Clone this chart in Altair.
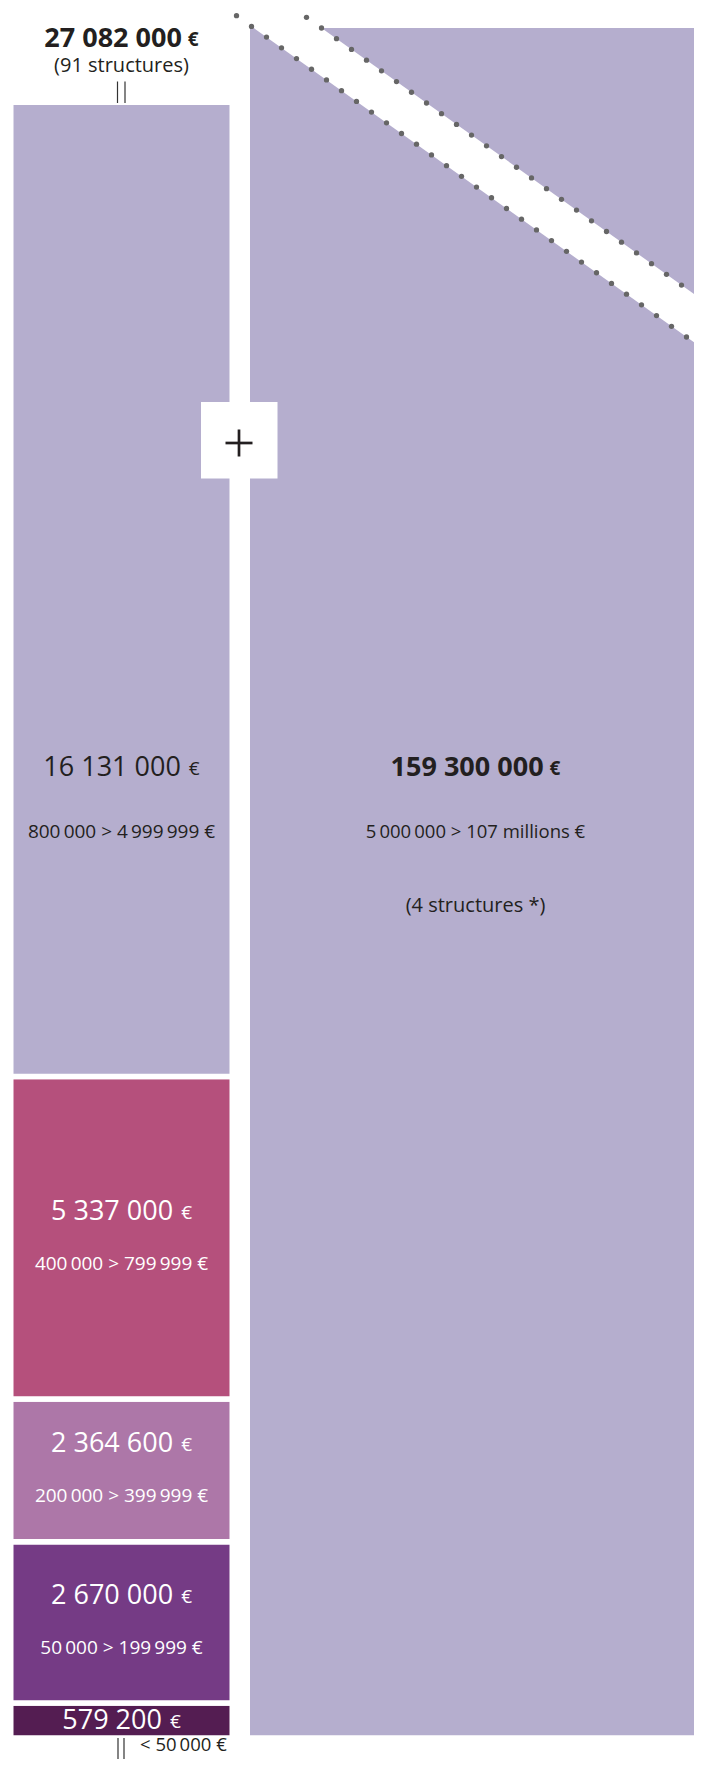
import re
import altair as alt
import pandas as pd

# ---------------- data ----------------
segment_ranges = ["< 50 000 €", "50 000 > 199 999 €", "200 000 > 399 999 €",
                  "400 000 > 799 999 €", "800 000 > 4 999 999 €"]
segment_amounts = [579200, 2670000, 2364600, 5337000, 16131000]
segment_colors = ["#541d52", "#753b85", "#ad77a8", "#b5507c", "#b5aece"]
segment_text_colors = ["#ffffff", "#ffffff", "#ffffff", "#ffffff", "#231f20"]

small_total = 27082000          # "27 082 000 €"
small_count = 91                # "(91 structures)"
big_amount = 159300000          # "159 300 000 €"
big_range = "5 000 000 > 107 millions €"
big_count = 4                   # "(4 structures *)"

# ---------------- layout / style ----------------
FONT = "Open Sans"
DARK = "#231f20"
PLOT_TOP = 28.0        # page y of the plot top
Y0 = 1738.0            # page y of value 0
K = 60.40              # pixels per million euros
X_MIN, X_MAX = 8.0, 694.0   # page x covered by the plot (body width 686)
W = X_MAX - X_MIN
H = Y0 - PLOT_TOP
YMAX = H / K
STROKE = 5.5
LEFT_X0, LEFT_X1 = 13.5, 229.5
RIGHT_X0, RIGHT_X1 = 250.0, 701.0
LEFT_CX = (LEFT_X0 + LEFT_X1) / 2
RIGHT_CX = (RIGHT_X0 + RIGHT_X1) / 2


def v(page_y):
    """page pixel y -> value in millions of euros"""
    return (Y0 - page_y) / K


def fmt(a):
    return f"{a:,}".replace(",", " ")


def thin(s):
    s = re.sub(r"(\d) (\d)", "\\1\u2009\\2", s)
    return re.sub(r"(\d) (\d)", "\\1\u2009\\2", s)


def adv(s, size):
    w = 0.0
    for ch in s:
        if ch.isdigit():
            w += 0.572
        elif ch == " ":
            w += 0.26
        else:
            w += 0.57
    return w * size


xs = alt.Scale(domain=[X_MIN, X_MAX], nice=False, zero=False)
ys = alt.Scale(domain=[0, YMAX], nice=False, zero=False)


def X(f):
    return alt.X(f, type="quantitative", scale=xs, axis=None)


def Y(f):
    return alt.Y(f, type="quantitative", scale=ys, axis=None)


# ---------------- left column (stacked) ----------------
seg = pd.DataFrame({
    "range": [thin(r) for r in segment_ranges],
    "amount": segment_amounts,
    "color": segment_colors,
    "tcolor": segment_text_colors,
})
seg["m"] = seg["amount"] / 1e6
seg["top"] = seg["m"].cumsum()
seg["bottom"] = seg["top"] - seg["m"]
seg["mid"] = (seg["top"] + seg["bottom"]) / 2
seg["xl"] = LEFT_X0 - STROKE / 2
seg["xr"] = LEFT_X1 + STROKE / 2
seg["num"] = seg["amount"].map(fmt)

VAL_SIZE, EUR_SIZE, GAP = 27, 19, 8
RNG_SIZE = 19
off = 26 / K
seg["val_y"] = seg["mid"] + off
seg["rng_y"] = seg["mid"] - off
seg.loc[0, "val_y"] = seg.loc[0, "mid"]
seg.loc[4, "val_y"] = v(768)
seg.loc[4, "rng_y"] = v(832)
num_w = seg["num"].map(lambda s: adv(s, VAL_SIZE))
eur_w = 0.572 * EUR_SIZE
tot = num_w + GAP + eur_w
seg["num_x"] = LEFT_CX - tot / 2 + num_w
seg["eur_x"] = seg["num_x"] + GAP
seg["cx"] = LEFT_CX

bars = alt.Chart(seg).mark_rect(stroke="white", strokeWidth=STROKE).encode(
    x=X("xl"), x2="xr", y=Y("bottom"), y2="top",
    color=alt.Color("color:N", scale=None))

val_num = alt.Chart(seg).mark_text(font=FONT, fontSize=VAL_SIZE, fontWeight=400,
                                   align="right", baseline="middle").encode(
    x=X("num_x"), y=Y("val_y"), text="num:N", color=alt.Color("tcolor:N", scale=None))
val_eur = alt.Chart(seg).mark_text(font=FONT, fontSize=EUR_SIZE, fontWeight=400,
                                   align="left", baseline="middle", dy=1).encode(
    x=X("eur_x"), y=Y("val_y"), text=alt.value("€"), color=alt.Color("tcolor:N", scale=None))
rng_txt = alt.Chart(seg.iloc[1:]).mark_text(font=FONT, fontSize=RNG_SIZE, fontWeight=400,
                                            align="center", baseline="middle").encode(
    x=X("cx"), y=Y("rng_y"), text="range:N", color=alt.Color("tcolor:N", scale=None))

low = pd.DataFrame({"x": [140.0], "y": [v(1745)], "t": [seg.loc[0, "range"]]})
low_txt = alt.Chart(low).mark_text(font=FONT, fontSize=18.5, fontWeight=400, align="left",
                                   baseline="middle", color=DARK).encode(
    x=X("x"), y=Y("y"), text="t:N")

# ---------------- header of left column ----------------
T_SIZE, T_EUR, T_GAP = 27, 19, 6
t_num = fmt(small_total)
tw = adv(t_num, T_SIZE)
ttot = tw + T_GAP + 0.572 * T_EUR
head = pd.DataFrame({
    "nx": [LEFT_CX - ttot / 2 + tw], "ex": [LEFT_CX - ttot / 2 + tw + T_GAP],
    "cx": [LEFT_CX], "y": [v(38.5)], "y2": [v(66)],
    "num": [t_num], "cnt": [f"({small_count} structures)"]})
head_num = alt.Chart(head).mark_text(font=FONT, fontSize=T_SIZE, fontWeight="bold", align="right",
                                     baseline="middle", color=DARK).encode(
    x=X("nx"), y=Y("y"), text="num:N")
head_eur = alt.Chart(head).mark_text(font=FONT, fontSize=T_EUR, fontWeight="bold", align="left",
                                     baseline="middle", color=DARK, dy=1).encode(
    x=X("ex"), y=Y("y"), text=alt.value("€"))
head_cnt = alt.Chart(head).mark_text(font=FONT, fontSize=20, fontWeight=400, align="center",
                                     baseline="middle", color=DARK).encode(
    x=X("cx"), y=Y("y2"), text="cnt:N")

conn = pd.DataFrame({"x": [117.5, 125.0, 118.0, 124.0],
                     "y": [v(81.5), v(81.5), v(1738), v(1738)],
                     "y2": [v(103), v(103), v(1768), v(1768)]})
conn_rules = alt.Chart(conn).mark_rule(color="#333333", strokeWidth=1.2).encode(
    x=X("x"), y=Y("y"), y2="y2")

# ---------------- right (broken) bar ----------------
big = pd.DataFrame({"xl": [RIGHT_X0 - STROKE / 2], "xr": [RIGHT_X1 + STROKE / 2],
                    "y": [big_amount / 1e6], "y2": [0.0]})
big_bar = alt.Chart(big).mark_rect(clip=True, color="#b5aece", stroke="white",
                                   strokeWidth=STROKE).encode(
    x=X("xl"), x2="xr", y=Y("y"), y2="y2")

# break band
SLOPE = 0.714
def lower_line(x):
    return 15.7 + SLOPE * (x - 236.5)
def upper_line(x):
    return 17.3 + SLOPE * (x - 306.5)

band = pd.DataFrame({"x": [236.5, 706.0]})
band["lo"] = band["x"].map(lambda x: v(lower_line(x)))
band["hi"] = band["x"].map(lambda x: v(upper_line(x)))
band_area = alt.Chart(band).mark_area(clip=True, color="white", opacity=1).encode(
    x=X("x"), y=Y("lo"), y2="hi")

dots = pd.DataFrame({"x": [236.5 + 15 * i for i in range(31)] + [306.5 + 15 * i for i in range(26)]})
dots["line"] = ["lo"] * 31 + ["hi"] * 26
dots["y"] = [v(lower_line(x)) if l == "lo" else v(upper_line(x)) for x, l in zip(dots["x"], dots["line"])]
dot_marks = alt.Chart(dots).mark_circle(size=28, color="#666666", opacity=1).encode(
    x=X("x"), y=Y("y"))

big_lab = pd.DataFrame({
    "cx": [RIGHT_CX], "y1": [v(768)], "y2": [v(832)], "y3": [v(906)],
    "rng": [thin(big_range)], "cnt": [f"({big_count} structures *)"]})
B_SIZE, B_EUR, B_GAP = 27, 19, 6
b_num = fmt(big_amount)
bw = adv(b_num, B_SIZE)
btot = bw + B_GAP + 0.572 * B_EUR
big_lab["nx"] = RIGHT_CX - btot / 2 + bw
big_lab["ex"] = big_lab["nx"] + B_GAP
big_lab["num"] = b_num

big_num = alt.Chart(big_lab).mark_text(font=FONT, fontSize=B_SIZE, fontWeight="bold", align="right",
                                       baseline="middle", color=DARK).encode(
    x=X("nx"), y=Y("y1"), text="num:N")
big_eur = alt.Chart(big_lab).mark_text(font=FONT, fontSize=B_EUR, fontWeight="bold", align="left",
                                       baseline="middle", color=DARK, dy=1).encode(
    x=X("ex"), y=Y("y1"), text=alt.value("€"))
big_rng = alt.Chart(big_lab).mark_text(font=FONT, fontSize=18.5, fontWeight=400, align="center",
                                       baseline="middle", color=DARK).encode(
    x=X("cx"), y=Y("y2"), text="rng:N")
big_cnt = alt.Chart(big_lab).mark_text(font=FONT, fontSize=20, fontWeight=400, align="center",
                                       baseline="middle", color=DARK).encode(
    x=X("cx"), y=Y("y3"), text="cnt:N")

# ---------------- "+" box ----------------
box = pd.DataFrame({"x": [201.0], "x2": [277.5], "y": [v(402)], "y2": [v(478.5)]})
plus_box = alt.Chart(box).mark_rect(color="white").encode(x=X("x"), x2="x2", y=Y("y"), y2="y2")
ph = pd.DataFrame({"x": [225.5], "x2": [252.5], "y": [v(443)]})
pv = pd.DataFrame({"x": [239.0], "y": [v(429.5)], "y2": [v(456.5)]})
plus_h = alt.Chart(ph).mark_rule(color=DARK, strokeWidth=2.7).encode(x=X("x"), x2="x2", y=Y("y"))
plus_v = alt.Chart(pv).mark_rule(color=DARK, strokeWidth=2.7).encode(x=X("x"), y=Y("y"), y2="y2")

chart = alt.layer(
    big_bar, band_area, dot_marks, bars, plus_box, plus_h, plus_v, conn_rules,
    val_num, val_eur, rng_txt, low_txt, head_num, head_eur, head_cnt,
    big_num, big_eur, big_rng, big_cnt,
).properties(
    width=W, height=H,
    autosize=alt.AutoSizeParams(type="none"),
    padding={"left": 0, "right": 0, "top": 20, "bottom": 21},
    background="white",
).configure_view(stroke=None)

chart.save("out.html", embed_options={"renderer": "svg", "actions": False})
